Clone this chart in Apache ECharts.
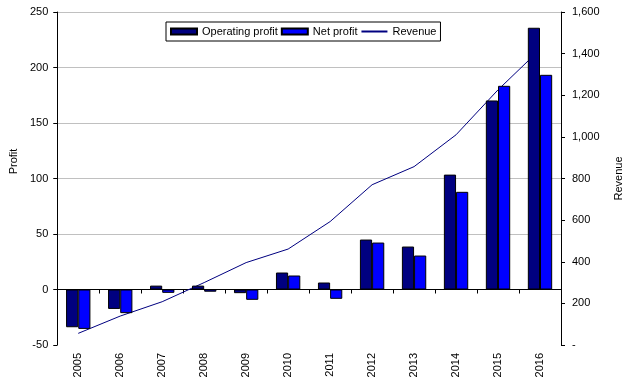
<!DOCTYPE html>
<html>
<head>
<meta charset="utf-8">
<script src="https://cdn.jsdelivr.net/npm/echarts@6/dist/echarts.min.js"></script>
<style>
html,body{margin:0;padding:0;background:#fff;}
#c{width:635px;height:383px;}
</style>
</head>
<body>
<div id="c"></div>
<script>
const years = ['2005','2006','2007','2008','2009','2010','2011','2012','2013','2014','2015','2016'];
const operatingProfit = [-34, -17.5, 3.5, 3.5, -3.3, 15.3, 6.3, 45, 38.7, 103.5, 170.3, 235.8];
const netProfit = [-35.5, -21.3, -3, -2, -9.3, 12.6, -8.4, 42.3, 30.6, 88, 183.5, 193.4];
const revenue = [56, 139, 208, 300, 396, 461, 593, 770, 857, 1010, 1226, 1420];

const FONT = 'Liberation Sans, Arial, sans-serif';
const chart = echarts.init(document.getElementById('c'), null, {renderer: 'canvas'});
chart.setOption({
  backgroundColor: '#ffffff',
  animation: false,
  textStyle: {fontFamily: FONT, color: '#000'},
  grid: {left: 48, right: 74, top: 12, bottom: 38, containLabel: false},
  legend: {
    left: 166, top: 22,
    padding: [4, 4, 4, 4],
    itemGap: 3,
    itemWidth: 26, itemHeight: 6,
    borderColor: '#000', borderWidth: 1,
    backgroundColor: '#fff',
    textStyle: {fontFamily: FONT, fontSize: 11, color: '#000'},
    data: [
      {name: 'Operating profit', icon: 'rect'},
      {name: 'Net profit', icon: 'rect'},
      {name: 'Revenue', itemStyle: {opacity: 0}}
    ]
  },
  xAxis: [
    {
      type: 'category', data: years, position: 'bottom',
      axisLine: {onZero: true, onZeroAxisIndex: 0, lineStyle: {color: '#000', width: 1}},
      axisTick: {show: true, length: 4, lineStyle: {color: '#000'}},
      axisLabel: {show: false},
      splitLine: {show: false}
    },
    {
      type: 'category', data: years, position: 'bottom',
      axisLine: {show: false, onZero: false},
      axisTick: {show: false},
      axisLabel: {rotate: 90, margin: 8, fontSize: 11, color: '#000', fontFamily: FONT},
      splitLine: {show: false}
    }
  ],
  yAxis: [
    {
      type: 'value', min: -50, max: 250, interval: 50, position: 'left',
      name: 'Profit', nameLocation: 'middle', nameRotate: 90, nameGap: 36,
      nameTextStyle: {fontSize: 11, color: '#000', fontFamily: FONT, padding: [0, 0, 0, 34]},
      axisLine: {show: true, lineStyle: {color: '#000', width: 1}},
      axisTick: {show: true, length: 4, lineStyle: {color: '#000'}},
      axisLabel: {margin: 9, fontSize: 11, color: '#000', fontFamily: FONT},
      splitLine: {show: true, showMinLine: false, lineStyle: {color: '#c0c0c0', width: 1}}
    },
    {
      type: 'value', min: 0, max: 1600, interval: 200, position: 'right',
      name: 'Revenue', nameLocation: 'middle', nameRotate: 90, nameGap: 52,
      nameTextStyle: {fontSize: 11, color: '#000', fontFamily: FONT},
      axisLine: {show: true, lineStyle: {color: '#000', width: 1}},
      axisTick: {show: true, length: 4, lineStyle: {color: '#000'}},
      axisLabel: {
        margin: 11, fontSize: 11, color: '#000', fontFamily: FONT,
        formatter: function (v) { return v === 0 ? '-' : v.toLocaleString('en-US'); }
      },
      splitLine: {show: false}
    }
  ],
  series: [
    {
      name: 'Operating profit', type: 'bar', xAxisIndex: 0, yAxisIndex: 0,
      data: operatingProfit, barWidth: '29%', barGap: '0%', z: 3,
      itemStyle: {color: '#000080', borderColor: '#000', borderWidth: 1}
    },
    {
      name: 'Net profit', type: 'bar', xAxisIndex: 0, yAxisIndex: 0,
      data: netProfit, barWidth: '29%', barGap: '0%', z: 3,
      itemStyle: {color: '#0000ff', borderColor: '#000', borderWidth: 1}
    },
    {
      name: 'Revenue', type: 'line', xAxisIndex: 0, yAxisIndex: 1,
      data: revenue, symbol: 'none', showSymbol: false, z: 1,
      lineStyle: {color: '#000080', width: 1},
      itemStyle: {color: '#000080'}
    }
  ]
});
</script>
</body>
</html>
